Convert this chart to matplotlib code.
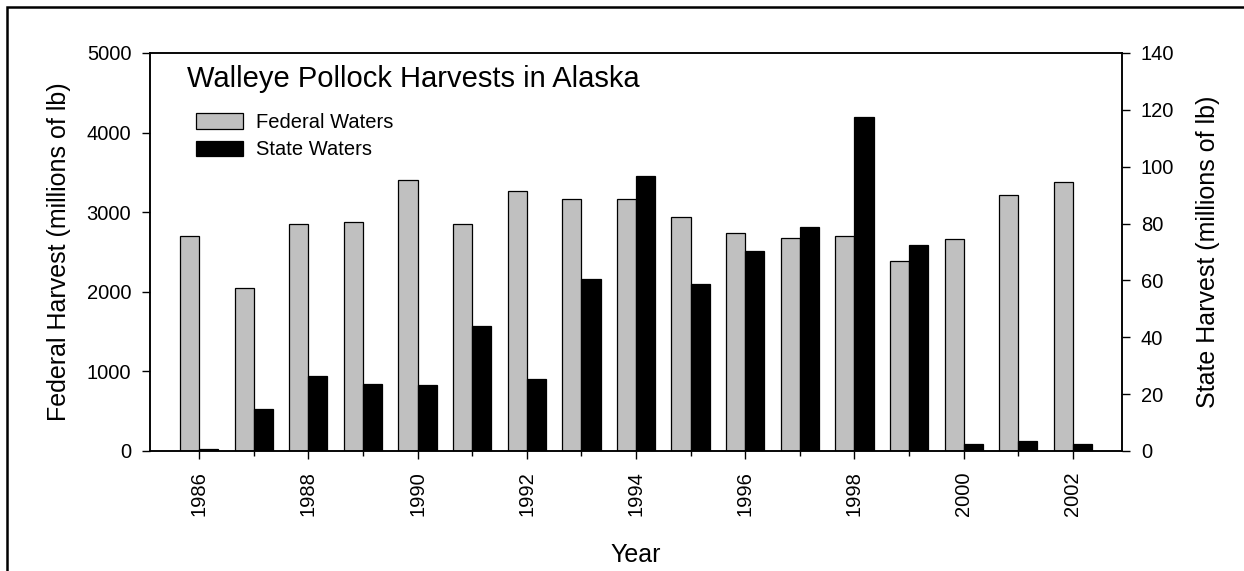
import matplotlib
matplotlib.use("Agg")
import matplotlib.pyplot as plt
from matplotlib.patches import Rectangle
from matplotlib.ticker import MultipleLocator

plt.rcParams['font.family'] = ['Liberation Sans', 'DejaVu Sans']

years = [1986, 1987, 1988, 1989, 1990, 1991, 1992, 1993, 1994, 1995,
         1996, 1997, 1998, 1999, 2000, 2001, 2002]
federal = [2705, 2047, 2852, 2881, 3401, 2856, 3264, 3163, 3163, 2944,
           2743, 2676, 2698, 2391, 2660, 3217, 3377]
state = [0.6, 14.8, 26.4, 23.7, 23.3, 43.8, 25.2, 60.5, 96.7, 58.7,
         70.2, 78.8, 117.6, 72.6, 2.6, 3.5, 2.6]
xtick_labels = [str(y) for y in range(1986, 2003, 2)]

W, H = 1244, 571
fig = plt.figure(figsize=(W / 100, H / 100), dpi=100)
ax = fig.add_axes([150 / W, 1 - 451 / H, (1122 - 150) / W, (451 - 53) / H])
ax2 = ax.twinx()

bw = 0.35
ax.bar(years, federal, width=-bw, align='edge', color='#C0C0C0',
       edgecolor='black', linewidth=0.9, label='Federal Waters', zorder=2)
ax2.bar(years, state, width=bw, align='edge', color='black',
        edgecolor='black', linewidth=0.9, label='State Waters', zorder=2)

ax.set_xlim(1985.1, 2002.9)
ax.set_ylim(0, 5000)
ax2.set_ylim(0, 140)
ax.set_yticks(range(0, 5001, 1000))
ax2.set_yticks(range(0, 141, 20))
ax.set_xticks(range(1986, 2003, 2))
ax.set_xticklabels(xtick_labels, rotation=90)
ax.xaxis.set_minor_locator(MultipleLocator(1))

for a in (ax, ax2):
    a.tick_params(axis='y', which='major', direction='out', length=5.5,
                  width=1, labelsize=14.5, pad=8)
    a.tick_params(axis='x', which='major', direction='out', length=5.8,
                  width=1, labelsize=14.5, pad=9)
    a.tick_params(axis='x', which='minor', direction='out', length=3.6, width=1)
    for s in a.spines.values():
        s.set_linewidth(1.1)

ax.set_ylabel('Federal Harvest (millions of lb)', fontsize=18, labelpad=11)
ax2.set_ylabel('State Harvest (millions of lb)', fontsize=18, labelpad=16)
ax.set_xlabel('Year', fontsize=18, labelpad=19)

ax.text(0.038, (451 - 87) / 398, 'Walleye Pollock Harvests in Alaska',
        transform=ax.transAxes, fontsize=21, ha='left', va='baseline')

h1, l1 = ax.get_legend_handles_labels()
h2, l2 = ax2.get_legend_handles_labels()
ax2.legend(h1 + h2, l1 + l2, loc='upper left',
           bbox_to_anchor=((196 - 150) / 972, (451 - 113) / 398),
           frameon=False, fontsize=14.5, handlelength=2.34, handleheight=0.8,
           labelspacing=0.41, handletextpad=0.65, borderpad=0,
           borderaxespad=0)

border = Rectangle((7.3 / W, -0.1), 1.2, 1 - 6.7 / H + 0.1,
                   transform=fig.transFigure, fill=False, edgecolor='black',
                   linewidth=1.8, clip_on=False)
fig.patches.append(border)

fig.savefig('out.png', dpi=100)
